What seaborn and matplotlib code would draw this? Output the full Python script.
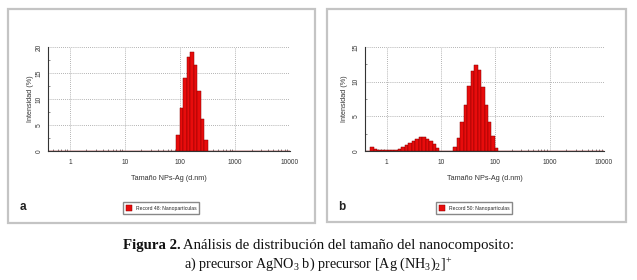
import numpy as np
import matplotlib
matplotlib.use("Agg")
import matplotlib.pyplot as plt
import seaborn as sns
from matplotlib.patches import Rectangle

sns.set_theme(style="white")
plt.rcParams['font.family'] = ['Liberation Sans', 'DejaVu Sans']
plt.rcParams['mathtext.fontset'] = 'custom'
plt.rcParams['mathtext.rm'] = 'Liberation Serif'
plt.rcParams['mathtext.it'] = 'Liberation Serif:italic'

# ---- data (Malvern size classes, d.nm, and intensity %) ----
sizes_a = [91.28, 105.7, 122.4, 141.8, 164.2, 190.1, 220.2, 255.0, 295.3]
intensity_a = [3.0, 8.2, 14.0, 18.0, 19.0, 16.5, 11.5, 6.2, 2.2]

sizes_b = [0.5365, 0.6213, 0.7195, 0.8332, 0.9649, 1.117, 1.294,
           1.499, 1.736, 2.010, 2.328, 2.696, 3.122, 3.615, 4.187, 4.849,
           5.615, 6.503, 7.531, 8.721,
           18.17, 21.04, 24.36, 28.21, 32.67, 37.84, 43.82, 50.75, 58.77,
           68.06, 78.82, 91.28, 105.7]
intensity_b = [0.6, 0.35, 0.15, 0.1, 0.1, 0.1, 0.1,
               0.15, 0.3, 0.6, 0.9, 1.2, 1.5, 1.8, 1.95, 1.95,
               1.8, 1.5, 1.0, 0.5,
               0.6, 1.9, 4.2, 6.6, 9.4, 11.5, 12.4, 11.7, 9.3,
               6.6, 4.2, 2.1, 0.4]

x_ticks = [1, 10, 100, 1000, 10000]
x_ticklabels = ["1", "10", "100", "1000", "10000"]
yticks_a = [0, 5, 10, 15, 20]
yticks_b = [0, 5, 10, 15]
legend_a = "Record 48: Nanopartículas"
legend_b = "Record 50: Nanopartículas"
xlabel = "Tamaño NPs-Ag (d.nm)"
ylabel = "Intensidad (%)"
caption_bold = "Figura 2."
caption_rest = " Análisis de distribución del tamaño del nanocomposito:"
caption_line2 = r"a) precursor AgNO$_3$ b) precursor [Ag (NH$_3$)$_2$]$^{+}$"

# Malvern classes: 70 log-spaced from 0.4 to 10000
n_cls = 70
lo, hi = np.log10(0.4), np.log10(10000)
step = (hi - lo) / (n_cls - 1)
brange = (lo - step / 2, hi + step / 2)

W, H = 637, 280
fig = plt.figure(figsize=(W / 100, H / 100), dpi=100)
fig.patch.set_facecolor("white")

def fx(px):
    return px / W

def fy(py):
    return 1 - py / H

# panel borders
for (x0, y0, x1, y1) in [(8, 9, 315, 223), (327, 9, 626, 222)]:
    fig.patches.append(Rectangle((fx(x0), fy(y1)), fx(x1 - x0), (y1 - y0) / H,
                                 transform=fig.transFigure, fill=False,
                                 edgecolor="#c4c4c4", linewidth=1.6))

panels = [
    dict(sizes=sizes_a, vals=intensity_a, yt=yticks_a, ymax=20, box=(48, 47, 290, 151),
         leg=legend_a, letter="a", lx=20, legc=161, ylx=30),
    dict(sizes=sizes_b, vals=intensity_b, yt=yticks_b, ymax=15, box=(365, 47, 604, 151),
         leg=legend_b, letter="b", lx=338, legc=474, ylx=344),
]

for p in panels:
    x0, y0, x1, y1 = p["box"]
    ax = fig.add_axes([fx(x0), fy(y1), fx(x1 - x0), (y1 - y0) / H])
    sns.histplot(x=p["sizes"], weights=p["vals"], bins=n_cls, binrange=brange,
                 log_scale=True, ax=ax, color="#e80c0c", edgecolor="#8a0000",
                 linewidth=0.35, alpha=1.0, label=p["leg"])
    ax.set_xlim(0.4, 10000)
    ax.set_ylim(0, p["ymax"])
    ax.set_xticks(x_ticks)
    ax.set_xticklabels(x_ticklabels)
    ax.set_yticks(p["yt"])
    ax.set_yticklabels([str(v) for v in p["yt"]], rotation=90, va="center")
    ax.tick_params(axis="both", labelsize=4.8, colors="#333333", length=2, width=0.5,
                   direction="in")
    ax.tick_params(axis="x", pad=6)
    ax.tick_params(axis="y", pad=4)
    ax.tick_params(axis="x", which="minor", length=1.5, width=0.4, direction="in",
                   bottom=True, colors="#333333")
    ax.yaxis.set_minor_locator(matplotlib.ticker.MultipleLocator(2.5))
    ax.tick_params(axis="y", which="minor", length=1.5, width=0.4, direction="in",
                   left=True, colors="#333333")
    ax.grid(True, which="major", linestyle=(0, (1, 1.5)), color="#9a9a9a", linewidth=0.6)
    ax.set_axisbelow(True)
    for s in ["top", "right"]:
        ax.spines[s].set_visible(False)
    for s in ["left", "bottom"]:
        ax.spines[s].set_color("#333333")
        ax.spines[s].set_linewidth(0.8)
    ax.set_xlabel("")
    ax.set_ylabel("")
    fig.text(fx((x0 + x1) / 2), fy(178), xlabel, ha="center", va="center",
             fontsize=5.2, color="#333333")
    fig.text(fx(p["ylx"]), fy((y0 + y1) / 2), ylabel, ha="center", va="center",
             rotation=90, fontsize=5.2, color="#333333")
    fig.text(fx(p["lx"]), fy(207), p["letter"], ha="left", va="center",
             fontsize=8.5, fontweight="bold", color="#222222")
    h, l = ax.get_legend_handles_labels()
    fig.legend(h, l, loc="center", bbox_to_anchor=(fx(p["legc"]), fy(208)),
               fontsize=3.6, frameon=True, fancybox=False, edgecolor="#888888",
               framealpha=1, handlelength=1.2, handleheight=1.2, borderpad=0.6,
               handletextpad=0.8)

# caption
fig.canvas.draw()
r = fig.canvas.get_renderer()
cap_size = 10.7
t1 = fig.text(0, fy(246), caption_bold, fontsize=cap_size, fontweight="bold",
              family="Liberation Serif", va="center", ha="left", color="#111111")
t2 = fig.text(0, fy(246), caption_rest, fontsize=cap_size,
              family="Liberation Serif", va="center", ha="left", color="#111111")
w1 = t1.get_window_extent(r).width
w2 = t2.get_window_extent(r).width
start = W / 2 - (w1 + w2) / 2
t1.set_x(fx(start))
t2.set_x(fx(start + w1))
fig.text(0.5, fy(264), caption_line2, fontsize=10.2, family="Liberation Serif",
         va="center", ha="center", color="#111111")

fig.savefig("out.png", dpi=100, facecolor="white")
